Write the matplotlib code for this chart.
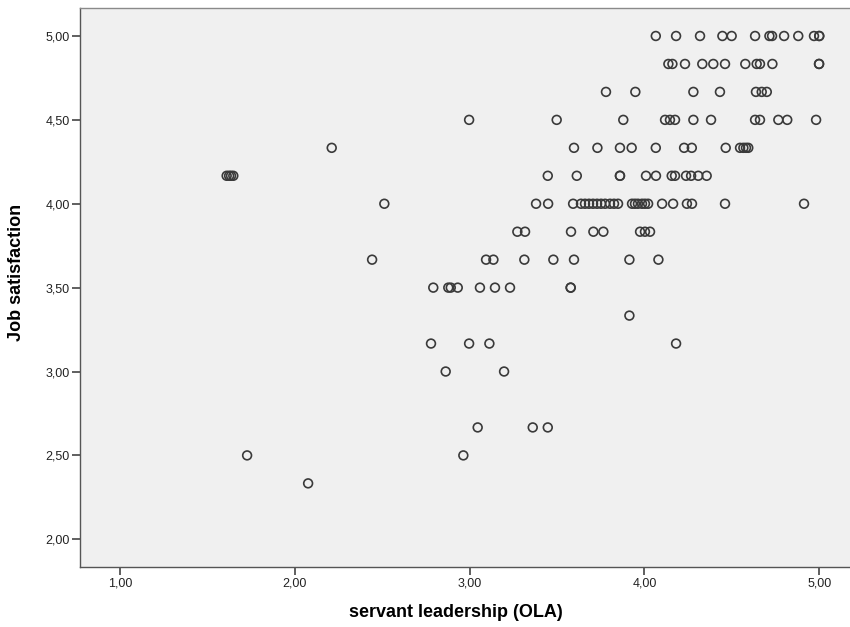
import matplotlib.pyplot as plt
from matplotlib.ticker import FuncFormatter

# servant leadership (OLA) scores, grouped by job satisfaction level
y_levels = [5.0, 4.8333, 4.6667, 4.5, 4.3333, 4.1667, 4.0, 3.8333,
            3.6667, 3.5, 3.3333, 3.1667, 3.0, 2.6667, 2.5, 2.3333]

ola_by_level = [
    [4.065, 4.181, 4.318, 4.446, 4.499, 4.633, 4.715, 4.730, 4.799, 4.880, 4.970, 5.0, 5.0],
    [4.137, 4.160, 4.232, 4.331, 4.394, 4.461, 4.577, 4.642, 4.661, 4.732, 4.999, 4.999],
    [3.780, 3.948, 4.280, 4.432, 4.638, 4.671, 4.700],
    [2.997, 3.498, 3.879, 4.118, 4.146, 4.175, 4.280, 4.381, 4.633, 4.661, 4.766, 4.817, 4.982],
    [2.211, 3.597, 3.731, 3.860, 3.927, 4.065, 4.227, 4.271, 4.465, 4.547, 4.566, 4.581, 4.594],
    [1.610, 1.624, 1.635, 1.648, 3.447, 3.613, 3.860, 3.860, 4.009, 4.066, 4.156, 4.175,
     4.238, 4.267, 4.308, 4.356],
    [2.512, 3.380, 3.449, 3.592, 3.637, 3.660, 3.683, 3.706, 3.729, 3.752, 3.775, 3.803,
     3.826, 3.849, 3.929, 3.946, 3.963, 3.986, 4.003, 4.021, 4.101, 4.164, 4.243, 4.272,
     4.461, 4.913],
    [3.273, 3.317, 3.580, 3.708, 3.765, 3.975, 4.003, 4.032],
    [2.442, 3.094, 3.136, 3.313, 3.479, 3.597, 3.914, 4.080],
    [2.792, 2.878, 2.892, 2.932, 3.059, 3.145, 3.231, 3.578, 3.578],
    [3.914],
    [2.779, 2.997, 3.113, 4.181],
    [2.863, 3.197],
    [3.046, 3.361, 3.447],
    [1.727, 2.964],
    [2.076],
]

x_ticks = [1, 2, 3, 4, 5]
y_ticks = [2.0, 2.5, 3.0, 3.5, 4.0, 4.5, 5.0]

ola = []
job_sat = []
for level, values in zip(y_levels, ola_by_level):
    for v in values:
        ola.append(v)
        job_sat.append(level)

plt.rcParams['font.family'] = ['Liberation Sans', 'DejaVu Sans']

fig = plt.figure(figsize=(8.5, 6.27), dpi=100)
ax = fig.add_axes([80 / 850, (627 - 567.3) / 627, 770 / 850, (567.3 - 8.3) / 627])
ax.set_facecolor('#f0f0f0')

ax.scatter(ola, job_sat, s=40, facecolors='none', edgecolors='#3a3a3a', linewidths=1.2)

ax.set_xlim(0.771, 5.176)
ax.set_ylim(1.833, 5.165)
ax.set_xticks(x_ticks)
ax.set_yticks(y_ticks)
comma = FuncFormatter(lambda v, p: f"{v:.2f}".replace('.', ','))
ax.xaxis.set_major_formatter(comma)
ax.yaxis.set_major_formatter(comma)
ax.tick_params(axis='both', direction='out', length=5.5, width=1.2, color='#444444',
               labelsize=9, labelcolor='#222222', pad=2)

ax.spines['right'].set_visible(False)
ax.spines['top'].set_color('#8a8a8a')
ax.spines['left'].set_color('#555555')
ax.spines['bottom'].set_color('#555555')
for s in ['top', 'left', 'bottom']:
    ax.spines[s].set_linewidth(1.0)

ax.set_xlabel('servant leadership (OLA)', fontsize=13, fontweight='bold')
ax.set_ylabel('Job satisfaction', fontsize=13, fontweight='bold')
ax.xaxis.set_label_coords(0.488, -0.08, transform=ax.transAxes)
ax.yaxis.set_label_coords(-0.082, 0.528, transform=ax.transAxes)
ax.xaxis.label.set_va('center')
ax.yaxis.label.set_va('center')

fig.savefig('out.png', dpi=100)
